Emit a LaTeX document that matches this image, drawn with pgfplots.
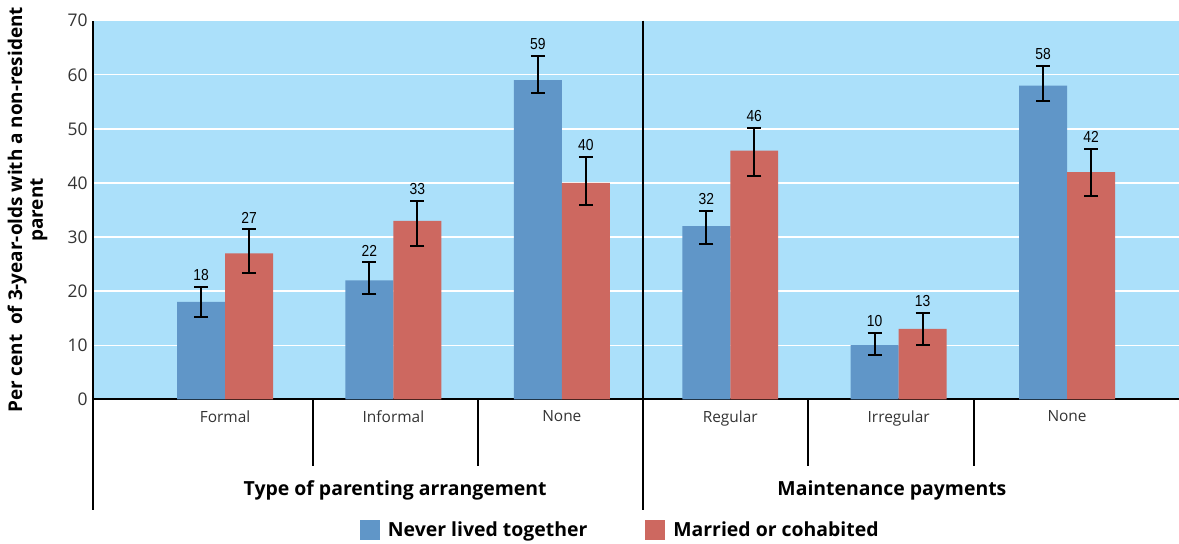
\documentclass[border=0pt]{standalone}
\usepackage{fontspec}
\setmainfont{Open Sans}
\newfontfamily\narrowfont[FakeStretch=0.87]{Liberation Sans}
\usepackage{pgfplots}
\pgfplotsset{compat=1.18}
\usepackage{pgfplotstable}
\definecolor{bgblue}{HTML}{ABE0FA}
\definecolor{barblue}{HTML}{6096C8}
\definecolor{barred}{HTML}{CD6860}

% x: category index, y: value, hi/lo: ends of the error bar
\pgfplotstableread{
x y hi lo
0 18 20.7 15.3
1 22 25.3 19.5
2 59 63.5 56.7
3 32 34.8 28.7
4 10 12.2 8.1
5 58 61.7 55.1
}\never
\pgfplotstableread{
x y hi lo
0 27 31.4 23.3
1 33 36.7 28.4
2 40 44.8 35.9
3 46 50.1 41.3
4 13 16.0 10.0
5 42 46.3 37.5
}\married

\begin{document}
\begin{tikzpicture}
\path[use as bounding box] (-93bp,-144.7bp) rectangle (1086bp,399.3bp);
\begin{axis}[
  scale only axis, width=1086bp, height=378.6bp,
  xmin=-0.784, xmax=5.665, ymin=0, ymax=70,
  ytick={0,10,...,70},
  xtick={0,...,5},
  xticklabels={Formal,Informal,None,Regular,Irregular,None},
  major tick length=0pt,
  axis x line*=bottom, axis y line*=left,
  axis line style={line width=2bp, black},
  axis background/.style={fill=bgblue},
  ymajorgrids, grid style={white, line width=1.3bp},
  xticklabel style={font=\fontsize{15.5}{18}\selectfont, text=black!80, yshift=-8bp},
  yticklabel style={font=\fontsize{17.5}{20}\selectfont, text=black!80, xshift=-2bp},
  /pgf/number format/assume math mode=true,
  clip=false,
  ylabel={Per cent\ \ of 3-year-olds with a non-resident\\parent},
  every axis y label/.style={at={(axis description cs:-0.0603,0.5)}, rotate=90, anchor=center, align=center, font=\bfseries\fontsize{19}{21}\selectfont},
  legend style={at={(0.4855,-0.345)}, anchor=center, draw=none, fill=none,
    legend columns=2, font=\bfseries\fontsize{19.5}{22}\selectfont,
    /tikz/every odd column/.append style={column sep=6bp},
    /tikz/every even column/.append style={column sep=56bp}},
  legend cell align=left,
]
\addplot[ybar, bar width=0.285, bar shift=0pt, fill=barblue, draw=none,
  legend image code/.code={\fill[barblue] (0bp,-10bp) rectangle (20bp,10bp);},
  error bars/.cd, y dir=both, y explicit, error mark=-,
  error bar style={line width=2bp, black},
  error mark options={rotate=90, line width=2bp, black, mark size=7bp}]
  table[x expr=\thisrow{x}-0.1425, y=y,
        y error plus expr=\thisrow{hi}-\thisrow{y},
        y error minus expr=\thisrow{y}-\thisrow{lo}] {\never};
\addlegendentry{Never lived together}
\addplot[ybar, bar width=0.285, bar shift=0pt, fill=barred, draw=none,
  legend image code/.code={\fill[barred] (0bp,-10bp) rectangle (20bp,10bp);},
  error bars/.cd, y dir=both, y explicit, error mark=-,
  error bar style={line width=2bp, black},
  error mark options={rotate=90, line width=2bp, black, mark size=7bp}]
  table[x expr=\thisrow{x}+0.1425, y=y,
        y error plus expr=\thisrow{hi}-\thisrow{y},
        y error minus expr=\thisrow{y}-\thisrow{lo}] {\married};
\addlegendentry{Married or cohabited}
\addplot[forget plot, draw=none, mark=none, nodes near coords, point meta=explicit,
  nodes near coords style={font=\narrowfont\fontsize{16}{18}\selectfont, anchor=south, inner sep=0pt, yshift=6bp, text=black}]
  table[x expr=\thisrow{x}-0.1425, y=hi, meta=y] {\never};
\addplot[forget plot, draw=none, mark=none, nodes near coords, point meta=explicit,
  nodes near coords style={font=\narrowfont\fontsize{16}{18}\selectfont, anchor=south, inner sep=0pt, yshift=6bp, text=black}]
  table[x expr=\thisrow{x}+0.1425, y=hi, meta=y] {\married};
\draw[line width=2bp] (axis cs:-0.784,0) -- (axis cs:-0.784,-20.47);
\draw[line width=2bp] (axis cs:2.482,70) -- (axis cs:2.482,-20.47);
\draw[line width=2bp] (axis cs:0.523,0) -- (axis cs:0.523,-12.33);
\draw[line width=2bp] (axis cs:1.502,0) -- (axis cs:1.502,-12.33);
\draw[line width=2bp] (axis cs:3.462,0) -- (axis cs:3.462,-12.33);
\draw[line width=2bp] (axis cs:4.448,0) -- (axis cs:4.448,-12.33);
\node[font=\bfseries\fontsize{19.5}{22}\selectfont] at (axis cs:1.01,-16.77) {Type of parenting arrangement};
\node[font=\bfseries\fontsize{19.5}{22}\selectfont] at (axis cs:3.96,-16.77) {Maintenance payments};
\end{axis}
\end{tikzpicture}
\end{document}
